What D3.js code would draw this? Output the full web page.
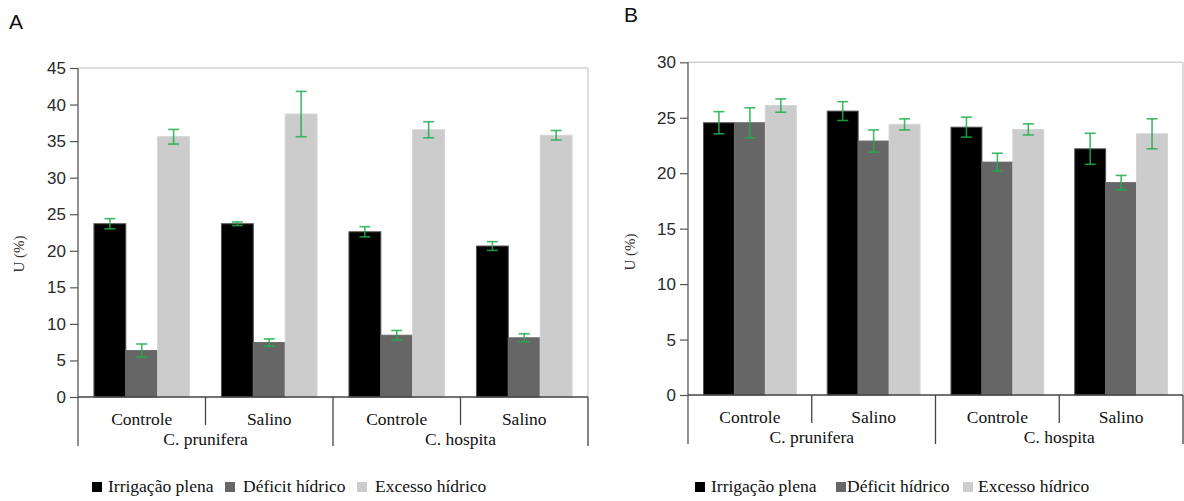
<!DOCTYPE html>
<html>
<head>
<meta charset="utf-8">
<script src="https://cdn.jsdelivr.net/npm/d3@7/dist/d3.min.js"></script>
<style>
  html, body { margin: 0; padding: 0; background: #fff; }
  svg { display: block; }
  .serif { font-family: "Liberation Serif", "Tinos", "Times New Roman", "DejaVu Serif", "Noto Serif", serif; }
  .sans { font-family: "Liberation Sans", Arimo, Arial, sans-serif; }
</style>
</head>
<body>
<svg id="chart" width="1184" height="501"></svg>
<script>
// Categories (treatment within species)
const categories = ["Controle", "Salino", "Controle", "Salino"];
const groups = ["C. prunifera", "C. hospita"];
const seriesNames = ["Irrigação plena", "Déficit hídrico", "Excesso hídrico"];
const seriesColors = ["#000000", "#666666", "#cccccc"];

// Panel A: means and errors per series (one value per category)
const aIrrigacao = [23.7, 23.7, 22.6, 20.65];
const aDeficit   = [6.35, 7.45, 8.45, 8.1];
const aExcesso   = [35.6, 38.7, 36.55, 35.8];
const aIrrigacaoErr = [0.7, 0.25, 0.7, 0.6];
const aDeficitErr   = [0.9, 0.5, 0.65, 0.55];
const aExcessoErr   = [1.0, 3.1, 1.1, 0.65];
const aTicks = [0, 5, 10, 15, 20, 25, 30, 35, 40, 45];

// Panel B
const bIrrigacao = [24.55, 25.6, 24.15, 22.2];
const bDeficit   = [24.55, 22.9, 21.0, 19.15];
const bExcesso   = [26.1, 24.4, 23.95, 23.55];
const bIrrigacaoErr = [1.0, 0.85, 0.9, 1.4];
const bDeficitErr   = [1.35, 1.0, 0.8, 0.65];
const bExcessoErr   = [0.6, 0.5, 0.5, 1.35];
const bTicks = [0, 5, 10, 15, 20, 25, 30];

const svg = d3.select("#chart");

function drawPanel(opt) {
  const { letter, letterX, letterY, left, right, top, bottom, yMax, ticks,
          values, errors, ylabelX, ylabelY, legendSquares, legendTexts } = opt;
  const g = svg.append("g");

  const y = d3.scaleLinear().domain([0, yMax]).range([bottom, top]);
  const x = d3.scaleBand().domain(d3.range(categories.length)).range([left, right]).padding(0);
  const xs = d3.scaleBand().domain(d3.range(seriesNames.length))
    .range([0, x.bandwidth()]).paddingInner(0).paddingOuter(0.5);

  // frame: top and right borders
  g.append("line").attr("x1", left).attr("x2", right).attr("y1", top).attr("y2", top)
    .attr("stroke", "#d2d2d2").attr("stroke-width", 1.5);
  g.append("line").attr("x1", right).attr("x2", right).attr("y1", top).attr("y2", bottom)
    .attr("stroke", "#d2d2d2").attr("stroke-width", 1.5);

  // bars
  seriesNames.forEach((s, si) => {
    g.append("g").selectAll("rect").data(values[si]).join("rect")
      .attr("x", (d, i) => x(i) + xs(si))
      .attr("y", d => y(d))
      .attr("width", xs.bandwidth())
      .attr("height", d => y(0) - y(d))
      .attr("fill", seriesColors[si])
      .attr("stroke", si === 0 ? "#555" : (si === 1 ? "#6a6a6a" : "#d4d4d4"))
      .attr("stroke-width", 1);
  });

  // error bars
  const cap = 5.5;
  seriesNames.forEach((s, si) => {
    const eg = g.append("g").attr("stroke", "#22ad4e").attr("stroke-opacity", 0.85)
      .attr("stroke-width", 1.6).attr("fill", "none");
    values[si].forEach((v, i) => {
      const cx = x(i) + xs(si) + xs.bandwidth() / 2;
      const e = errors[si][i];
      const y1 = y(v + e), y2 = y(v - e);
      eg.append("line").attr("x1", cx).attr("x2", cx).attr("y1", y1).attr("y2", y2);
      eg.append("line").attr("x1", cx - cap).attr("x2", cx + cap).attr("y1", y1).attr("y2", y1);
      eg.append("line").attr("x1", cx - cap).attr("x2", cx + cap).attr("y1", y2).attr("y2", y2);
    });
  });

  // y axis
  const yAxis = d3.axisLeft(y).tickValues(ticks).tickSize(8).tickPadding(4).tickFormat(d3.format("d"));
  const ya = g.append("g").attr("transform", `translate(${left},0)`).call(yAxis);
  ya.attr("font-family", null).attr("font-size", null);
  ya.select(".domain").remove();
  ya.selectAll(".tick line").attr("stroke", "#555").attr("stroke-width", 1.2);
  ya.selectAll(".tick text").attr("class", "sans").attr("font-size", 17).attr("fill", "#2a2a2a");

  const groupBottom = bottom + 49;
  const catBottom = bottom + 28;
  g.append("line").attr("x1", left).attr("x2", left).attr("y1", top).attr("y2", groupBottom)
    .attr("stroke", "#555").attr("stroke-width", 1.3);

  // x axis baseline and category separators
  g.append("line").attr("x1", left).attr("x2", right).attr("y1", bottom).attr("y2", bottom)
    .attr("stroke", "#444").attr("stroke-width", 1.3);
  for (let i = 1; i <= categories.length; i++) {
    const bx = i === categories.length ? right : x(i);
    const isGroup = i % 2 === 0;
    g.append("line").attr("x1", bx).attr("x2", bx).attr("y1", bottom)
      .attr("y2", isGroup ? groupBottom : catBottom)
      .attr("stroke", "#444").attr("stroke-width", 1.3);
  }

  // category labels
  g.append("g").selectAll("text").data(categories).join("text")
    .attr("class", "serif")
    .attr("x", (d, i) => x(i) + x.bandwidth() / 2)
    .attr("y", bottom + 28)
    .attr("text-anchor", "middle")
    .attr("font-size", 17.5).attr("fill", "#111")
    .text(d => d);

  // species labels
  g.append("g").selectAll("text").data(groups).join("text")
    .attr("class", "serif")
    .attr("x", (d, gi) => x(gi * 2) + x.bandwidth())
    .attr("y", bottom + 48)
    .attr("text-anchor", "middle")
    .attr("font-size", 17.5).attr("fill", "#111")
    .text(d => d);

  // y axis label
  g.append("text")
    .attr("class", "serif")
    .attr("transform", `translate(${ylabelX},${ylabelY}) rotate(-90)`)
    .attr("text-anchor", "middle")
    .attr("dominant-baseline", "central")
    .attr("font-size", 15).attr("fill", "#333")
    .text("U (%)");

  // panel letter
  g.append("text").attr("class", "sans").attr("x", letterX).attr("y", letterY)
    .attr("font-size", 21).attr("fill", "#111")
    .text(letter);

  // legend
  const ly = 482;
  seriesNames.forEach((s, si) => {
    g.append("rect").attr("x", legendSquares[si]).attr("y", ly)
      .attr("width", 10).attr("height", 10).attr("fill", seriesColors[si]);
    g.append("text").attr("class", "serif").attr("x", legendTexts[si]).attr("y", ly + 10)
      .attr("font-size", 17.5).attr("fill", "#111")
      .text(s);
  });
}

drawPanel({
  letter: "A", letterX: 9, letterY: 29,
  left: 78, right: 588, top: 68, bottom: 397, yMax: 45, ticks: aTicks,
  values: [aIrrigacao, aDeficit, aExcesso],
  errors: [aIrrigacaoErr, aDeficitErr, aExcessoErr],
  ylabelX: 19, ylabelY: 254,
  legendSquares: [92, 225, 357], legendTexts: [108, 243, 375]
});

drawPanel({
  letter: "B", letterX: 624, letterY: 22,
  left: 688, right: 1183, top: 62.3, bottom: 395, yMax: 30, ticks: bTicks,
  values: [bIrrigacao, bDeficit, bExcesso],
  errors: [bIrrigacaoErr, bDeficitErr, bExcessoErr],
  ylabelX: 630, ylabelY: 252,
  legendSquares: [695, 836, 963], legendTexts: [711, 847, 978]
});
</script>
</body>
</html>
